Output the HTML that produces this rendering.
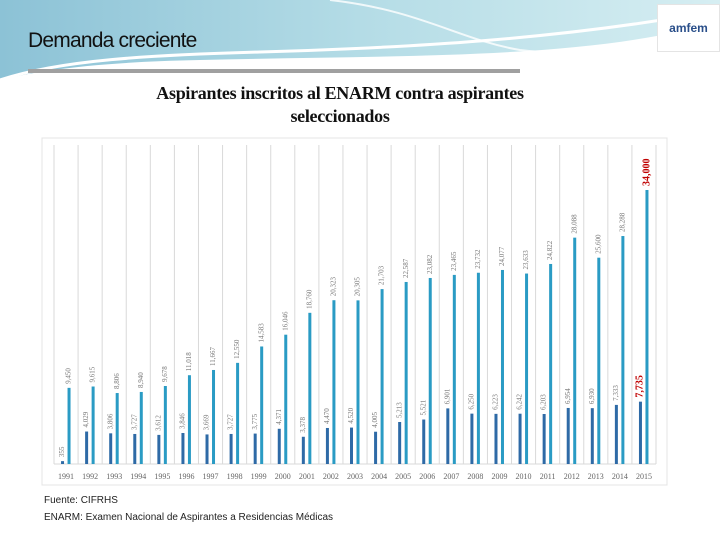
<!DOCTYPE html>
<html><head><meta charset="utf-8"><style>
body{margin:0;width:720px;height:540px;overflow:hidden;background:#fff;position:relative;font-family:"Liberation Sans",sans-serif}
#hdr{position:absolute;left:0;top:0}
#title1{position:absolute;left:28px;top:29px;font-size:21px;color:#111;letter-spacing:-0.8px}
#title2{position:absolute;left:60px;top:82px;width:560px;text-align:center;font-family:"Liberation Serif",serif;font-weight:bold;font-size:18px;line-height:23px;color:#111;letter-spacing:-0.3px}
#logo{position:absolute;left:657px;top:4px;width:61px;height:46px;background:#fff;border:1px solid #e4e4e4;font-size:12px;color:#333;text-align:center;line-height:46px}
#foot{position:absolute;left:44px;top:492px;font-size:10px;line-height:17px;color:#222}
#chart{position:absolute;left:0;top:0}
</style></head><body>
<svg id="hdr" width="720" height="140">
<defs><linearGradient id="g" x1="0" x2="1"><stop offset="0" stop-color="#8cc2d6"/><stop offset="0.5" stop-color="#b4dce6"/><stop offset="1" stop-color="#d6eef2"/></linearGradient></defs>
<path d="M0 0 H720 V20 C600 60 400 55 200 60 C100 62 40 70 0 80 Z" fill="url(#g)"/>
<path d="M0 80 C60 60 150 55 260 52 C400 48 560 40 720 10" stroke="#fff" stroke-width="3" fill="none"/>
<path d="M330 0 C420 10 460 40 520 50 C600 60 680 40 720 20" stroke="#fff" stroke-width="2" fill="none" opacity="0.8"/>
<rect x="28" y="69" width="492" height="4" fill="#a0a0a0"/>
</svg>
<div id="title1">Demanda creciente</div>
<div id="logo"><b style="color:#2a4f8a">amfem</b></div>
<div id="title2">Aspirantes inscritos al ENARM contra aspirantes<br>seleccionados</div>
<svg id="chart" width="720" height="540"></svg>
<div id="foot">Fuente: CIFRHS<br>ENARM: Examen Nacional de Aspirantes a Residencias Médicas</div>
<script>
const years=["1991","1992","1993","1994","1995","1996","1997","1998","1999","2000","2001","2002","2003","2004","2005","2006","2007","2008","2009","2010","2011","2012","2013","2014","2015"];
const seleccionados=[355,4029,3806,3727,3612,3846,3669,3727,3775,4371,3378,4470,4520,4005,5213,5521,6901,6250,6223,6242,6203,6954,6930,7333,7735];
const aspirantes=[9450,9615,8806,8940,9678,11018,11667,12550,14583,16046,18760,20323,20305,21703,22587,23082,23465,23732,24077,23633,24822,28088,25600,28288,34000];
const selLabels=["355","4,029","3,806","3,727","3,612","3,846","3,669","3,727","3,775","4,371","3,378","4,470","4,520","4,005","5,213","5,521","6,901","6,250","6,223","6,242","6,203","6,954","6,930","7,333","7,735"];
const aspLabels=["9,450","9,615","8,806","8,940","9,678","11,018","11,667","12,550","14,583","16,046","18,760","20,323","20,305","21,703","22,587","23,082","23,465","23,732","24,077","23,633","24,822","28,088","25,600","28,288","34,000"];
const NS="http://www.w3.org/2000/svg",svg=document.getElementById('chart');
const X0=54,X1=656,Y0=464,YMAX=34000,YTOP=190;
const step=(X1-X0)/years.length;
const xc=i=>X0+step*(i+0.5);
const y=v=>Y0-(v/YMAX)*(Y0-YTOP);
function mk(t,a){const e=document.createElementNS(NS,t);for(const k in a)e.setAttribute(k,a[k]);svg.appendChild(e);return e;}
const box=mk('rect',{x:42,y:138,width:625,height:347,fill:'none',stroke:'#e4e4e4'});


for(let i=0;i<=years.length;i++){const g=mk('line',{x1:X0+step*i,x2:X0+step*i,y1:145,y2:Y0,stroke:'#d9d9d9','stroke-width':1});

}
const ax=mk('line',{x1:X0,x2:X1,y1:Y0,y2:Y0,stroke:'#d9d9d9'});


years.forEach((yr,i)=>{
 const c=xc(i),last=i===years.length-1;
 const b1=mk('rect',{x:c-5,y:y(seleccionados[i]),width:3,height:Y0-y(seleccionados[i]),fill:'#2e6aa6'});
 
 
 const b2=mk('rect',{x:c+1.5,y:y(aspirantes[i]),width:3,height:Y0-y(aspirantes[i]),fill:'#2a9bc4'});
 
 
 const lbl=[[c-3.5,y(seleccionados[i])-4,selLabels[i]],[c+3,y(aspirantes[i])-4,aspLabels[i]]];
 lbl.forEach((l,j)=>{
  const t=mk('text',{x:l[0],y:l[1],transform:`rotate(-90 ${l[0]} ${l[1]})`,'font-size':last?10:7,'font-weight':last?'bold':'normal',fill:last?'#c00000':'#777','font-family':'Liberation Serif, serif','dominant-baseline':'middle'});
  t.textContent=l[2];
  
  
 });
 const t=mk('text',{x:c,y:479,'font-size':8,fill:'#666','text-anchor':'middle','font-family':'Liberation Serif, serif'});
 t.textContent=yr;
 
 
});
</script>
</body></html>
